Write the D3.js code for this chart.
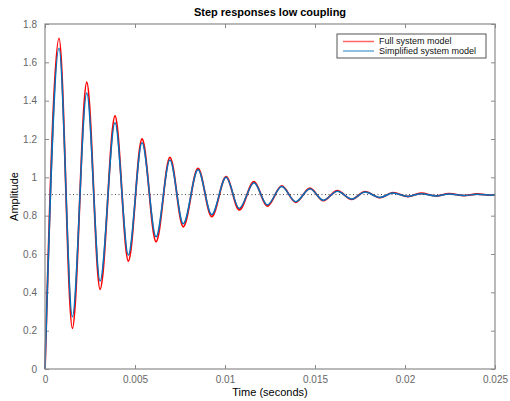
<!DOCTYPE html>
<html>
<head>
<meta charset="utf-8">
<script src="https://cdn.jsdelivr.net/npm/d3@7"></script>
<style>
  body { margin: 0; background: #fff; }
  svg { display: block; font-family: "Liberation Sans", Arial, sans-serif; }
</style>
</head>
<body>
<div id="chart"></div>
<script>
// time of every extreme (start, peak, trough, ..., end), seconds
const times = [0,
  0.00078, 0.00152, 0.00232, 0.00306, 0.00389, 0.00463, 0.00539, 0.00617,
  0.00694, 0.00768, 0.0085, 0.00926, 0.01006, 0.01079, 0.01161, 0.01235,
  0.01315, 0.01393, 0.01472, 0.01546, 0.01624, 0.01704, 0.01778, 0.01861,
  0.01933, 0.02017, 0.02089, 0.02172, 0.02244, 0.02328, 0.024, 0.02483, 0.025];

// full system model amplitude at those times
const fullModel = [0,
  1.725, 0.212, 1.496, 0.416, 1.32, 0.563, 1.2, 0.664,
  1.104, 0.742, 1.047, 0.795, 1.003, 0.83, 0.977, 0.85,
  0.955, 0.87, 0.943, 0.878, 0.93, 0.885, 0.925, 0.894,
  0.92, 0.9, 0.917, 0.903, 0.915, 0.905, 0.913, 0.907, 0.91];

// simplified system model amplitude at those times
const simpModel = [0,
  1.673, 0.273, 1.44, 0.459, 1.285, 0.595, 1.18, 0.69,
  1.09, 0.758, 1.04, 0.806, 1.0, 0.838, 0.972, 0.856,
  0.952, 0.873, 0.94, 0.88, 0.928, 0.887, 0.923, 0.895,
  0.918, 0.9, 0.915, 0.903, 0.913, 0.905, 0.912, 0.907, 0.91];

const finalValue = 0.91;

const xTicks = [0, 0.005, 0.01, 0.015, 0.02, 0.025];
const yTicks = [0, 0.2, 0.4, 0.6, 0.8, 1, 1.2, 1.4, 1.6, 1.8];
const seriesNames = ["Full system model", "Simplified system model"];
const seriesColors = ["#ff0000", "#0072bd"];

const W = 510, H = 401;
const margin = {top: 24, right: 15, bottom: 32, left: 45};
const width = W - margin.left - margin.right,
      height = H - margin.top - margin.bottom;

const svg = d3.select("#chart")
  .append("svg")
    .attr("width", W)
    .attr("height", H);

const g = svg.append("g")
  .attr("transform", `translate(${margin.left},${margin.top})`);

const x = d3.scaleLinear().domain([0, 0.025]).range([0, width]);
const y = d3.scaleLinear().domain([0, 1.8]).range([height, 0]);

const axisColor = "#8a8a8a";
const labelColor = "#666";

// axes with inward ticks, MATLAB box style
function styleAxis(sel, showLabels) {
  sel.select(".domain").remove();
  sel.selectAll(".tick line").attr("stroke", axisColor);
  sel.selectAll(".tick text")
    .attr("fill", labelColor)
    .style("font-size", "10px")
    .style("display", showLabels ? null : "none");
}

const fmt = d => d3.format("~g")(d);

g.append("g")
  .attr("transform", `translate(0,${height})`)
  .call(d3.axisBottom(x).tickValues(xTicks).tickFormat(fmt).tickSizeInner(-4).tickPadding(7))
  .call(s => styleAxis(s, true));

g.append("g")
  .call(d3.axisTop(x).tickValues(xTicks).tickSizeInner(-4))
  .call(s => styleAxis(s, false));

g.append("g")
  .call(d3.axisLeft(y).tickValues(yTicks).tickFormat(fmt).tickSizeInner(-4).tickPadding(8))
  .call(s => styleAxis(s, true));

g.append("g")
  .attr("transform", `translate(${width},0)`)
  .call(d3.axisRight(y).tickValues(yTicks).tickSizeInner(-4))
  .call(s => styleAxis(s, false));

// final value dotted line
g.append("line")
  .attr("x1", x(0)).attr("x2", x(0.025))
  .attr("y1", y(finalValue)).attr("y2", y(finalValue))
  .attr("stroke", "#444")
  .attr("stroke-width", 1)
  .attr("stroke-dasharray", "1,2.5");

const line = d3.line()
  .x((d, i) => x(times[i]))
  .y(d => y(d))
  .curve(d3.curveMonotoneX);

g.append("path")
  .datum(fullModel)
  .attr("fill", "none")
  .attr("stroke", seriesColors[0])
  .attr("stroke-width", 1.8)
  .attr("d", line);

g.append("path")
  .datum(simpModel)
  .attr("fill", "none")
  .attr("stroke", seriesColors[1])
  .attr("stroke-width", 1.5)
  .attr("d", line);

// box
g.append("rect")
  .attr("width", width).attr("height", height)
  .attr("fill", "none")
  .attr("stroke", axisColor)
  .attr("stroke-width", 1.2);

// legend
const leg = svg.append("g").attr("transform", "translate(337,34)");
leg.append("rect")
  .attr("width", 149).attr("height", 24)
  .attr("fill", "#fff")
  .attr("stroke", "#555")
  .attr("stroke-width", 1);
seriesNames.forEach((name, i) => {
  const ly = 7.5 + i * 9.5;
  leg.append("line")
    .attr("x1", 6).attr("x2", 37)
    .attr("y1", ly).attr("y2", ly)
    .attr("stroke", seriesColors[i])
    .attr("stroke-opacity", 0.6)
    .attr("stroke-width", 1.5);
  leg.append("text")
    .attr("x", 42).attr("y", ly)
    .attr("dy", "0.33em")
    .style("font-size", "9px")
    .attr("fill", "#111")
    .text(name);
});

// title and axis labels
svg.append("text")
  .attr("x", margin.left + width / 2).attr("y", 16)
  .attr("text-anchor", "middle")
  .style("font-size", "11px")
  .style("font-weight", "bold")
  .text("Step responses low coupling");

svg.append("text")
  .attr("x", margin.left + width / 2).attr("y", 396)
  .attr("text-anchor", "middle")
  .style("font-size", "11px")
  .text("Time (seconds)");

svg.append("text")
  .attr("transform", `translate(18,${margin.top + height / 2}) rotate(-90)`)
  .attr("text-anchor", "middle")
  .style("font-size", "11px")
  .text("Amplitude");
</script>
</body>
</html>
